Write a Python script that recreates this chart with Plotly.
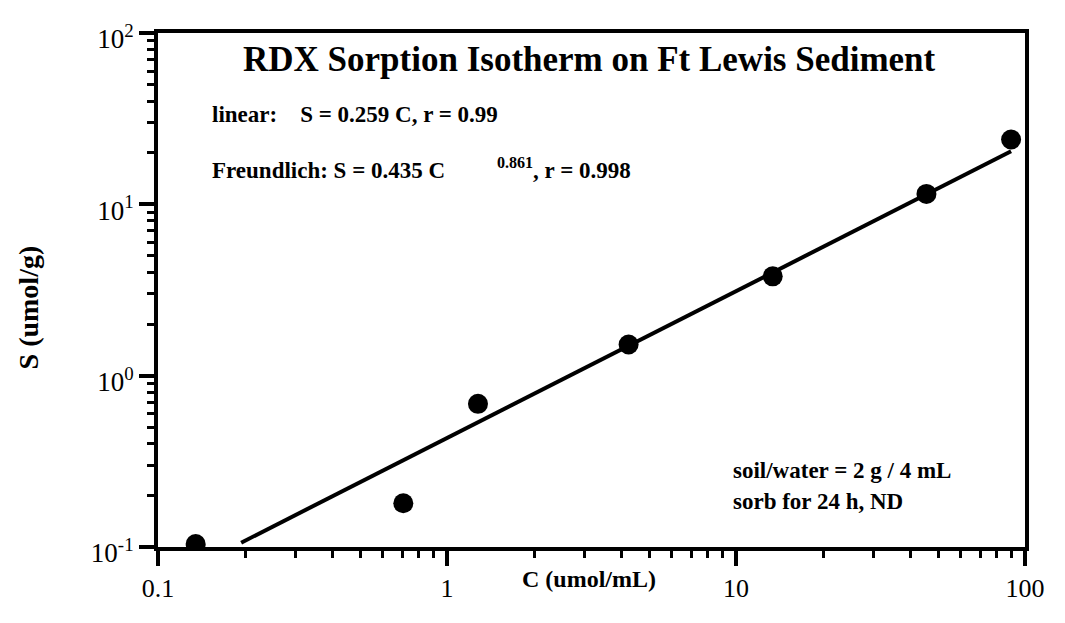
import plotly.graph_objects as go

# measured sorption data (C in umol/mL, S in umol/g)
conc = [0.135, 0.706, 1.28, 4.25, 13.4, 45.6, 89.5]
sorbed = [0.104, 0.180, 0.685, 1.52, 3.80, 11.5, 23.9]

# Freundlich fit line end points
fit_conc = [0.194, 89.5]
fit_sorbed = [0.106, 20.4]

x_tickvals = [0.1, 1, 10, 100]
x_ticktext = ["0.1", "1", "10", "100"]
y_tickvals = [0.1, 1, 10, 100]
y_ticktext = ["10<sup>-1</sup>", "10<sup>0</sup>", "10<sup>1</sup>", "10<sup>2</sup>"]

minor_x = [0.2, 0.3, 0.4, 0.5, 0.6, 0.7, 0.8, 0.9, 2, 3, 4, 5, 6, 7, 8, 9,
           20, 30, 40, 50, 60, 70, 80, 90]
minor_y = minor_x

# page body has an 8px margin, so the figure is a bit smaller than the window
OFF = 8
W, H = 1049, 607
L, R, T, B = 150, 25, 16, 44
FONT = "Liberation Serif"
NB = "\u00a0"


def px(x):
    return (x - OFF - L) / (W - L - R)


def py(y):
    return (H - B - (y - OFF)) / (H - T - B)


fig = go.Figure()

fig.add_trace(go.Scatter(
    x=fit_conc, y=fit_sorbed, mode="lines",
    line=dict(color="black", width=4), hoverinfo="skip"))

fig.add_trace(go.Scatter(
    x=conc, y=sorbed, mode="markers",
    marker=dict(color="black", size=20)))

axis_common = dict(
    type="log", range=[-1, 2], showgrid=False, zeroline=False,
    showline=True, linecolor="black", linewidth=4, mirror=True,
    ticks="outside", ticklen=15, tickwidth=4, tickcolor="black",
)

fig.update_xaxes(**axis_common, tickvals=x_tickvals, ticktext=x_ticktext,
                 tickfont=dict(family=FONT, size=26, color="black"),
                 minor=dict(tickvals=minor_x, ticks="outside", ticklen=7,
                            tickwidth=3, tickcolor="black"))
fig.update_yaxes(**axis_common, tickvals=y_tickvals, ticktext=y_ticktext,
                 tickfont=dict(family=FONT, size=27, color="black"),
                 ticklabelshift=6,
                 minor=dict(tickvals=minor_y, ticks="outside", ticklen=7,
                            tickwidth=3, tickcolor="black"))

bold = dict(family=FONT, size=22, color="black", weight="bold")


def note(text, x, y, xanchor="left", size=22, **kw):
    fig.add_annotation(text=text, x=px(x), y=py(y), xref="paper", yref="paper",
                       xanchor=xanchor, yanchor="middle", showarrow=False,
                       font=dict(bold, size=size), **kw)


note("RDX Sorption Isotherm on Ft Lewis Sediment", 593, 52, "center", 35)
note("linear:" + NB * 4 + "S = 0.259 C, r = 0.99", 210, 111, size=23)
note("Freundlich: S = 0.435 C" + NB * 9 + "<sup>0.861</sup>, r = 0.998",
     210, 168, size=23)
note("soil/water = 2 g / 4 mL", 736, 490, size=23)
note("sorb for 24 h, ND", 736, 523, size=23)
note("C (umol/mL)", 592, 605, "center", 24)
note("S (umol/g)", 27, 316, "center", 28, textangle=-90)

fig.update_layout(
    width=W, height=H,
    margin=dict(l=L, r=R, t=T, b=B),
    paper_bgcolor="white", plot_bgcolor="white",
    showlegend=False,
)

fig.write_html("out.html")
